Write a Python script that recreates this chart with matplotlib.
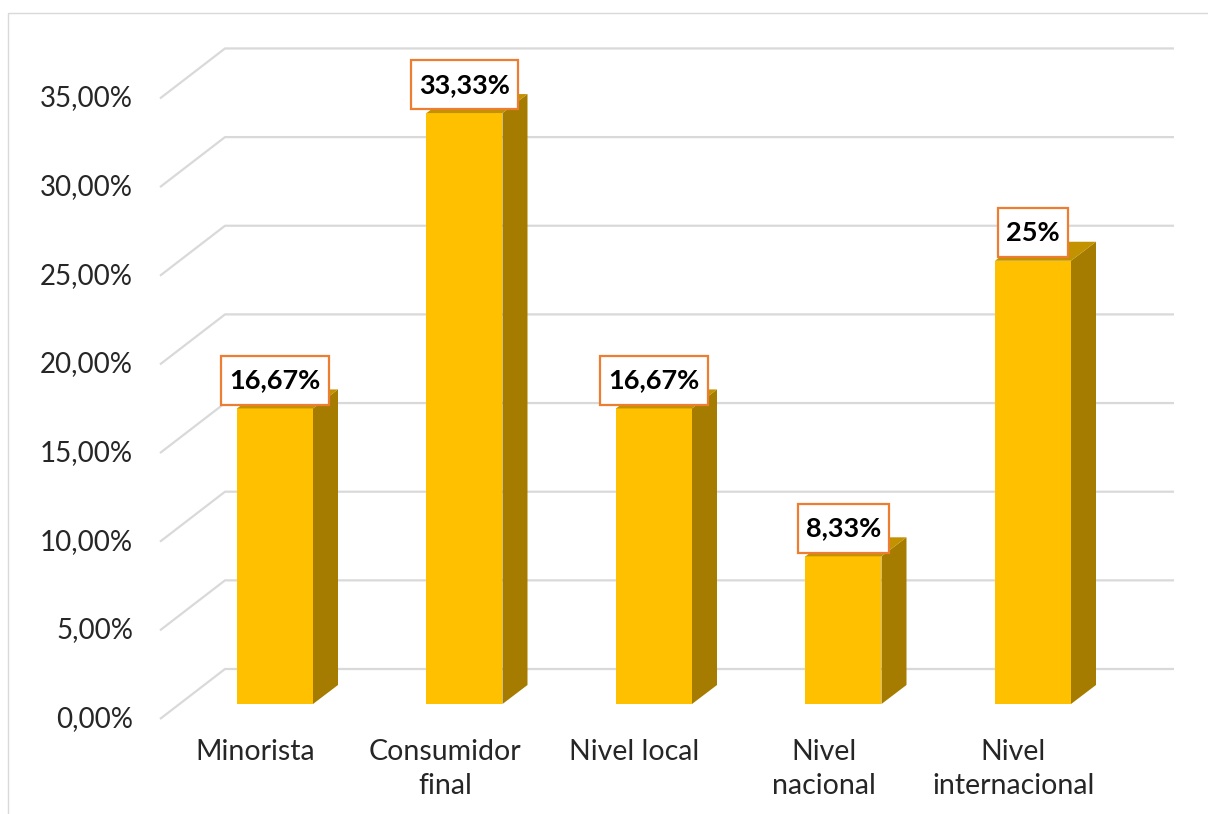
import matplotlib
matplotlib.use("Agg")
import matplotlib.pyplot as plt
from matplotlib.patches import Polygon, Rectangle

# Data
categories = ["Minorista", "Consumidor\nfinal", "Nivel local", "Nivel\nnacional", "Nivel\ninternacional"]
values = [16.67, 33.33, 16.67, 8.33, 25.0]
value_labels = ["16,67%", "33,33%", "16,67%", "8,33%", "25%"]
y_ticks = [0, 5, 10, 15, 20, 25, 30, 35]

# Style
FRONT = "#ffc000"
SIDE = "#a67c00"
TOP = "#c29200"
GRID = "#d9d9d9"
BOX_EDGE = "#ed7d31"
TEXT = "#262626"
plt.rcParams["font.family"] = ["Lato", "DejaVu Sans"]

W, H = 1208, 814
fig = plt.figure(figsize=(W / 100, H / 100), dpi=100)
ax = fig.add_axes([0, 0, 1, 1])
ax.axis("off")

# Scale: 189.5 px per category, 17.73 px per percentage point
px_cat, px_pct = 189.5, 17.73
x0_px, y0_px = 275.0, 704.0
ax.set_xlim(-x0_px / px_cat, (W - x0_px) / px_cat)
ax.set_ylim((y0_px - H) / px_pct, y0_px / px_pct)

bar_w = 76 / px_cat
dx, dy = 25 / px_cat, 19 / px_pct            # bar depth
back_dy = 35 / px_pct                          # back wall offset above bar plane
front_dy = -15 / px_pct                        # front plane offset below bar plane
wall_left = (225 - x0_px) / px_cat
front_left = (160 - x0_px) / px_cat
wall_right = (1174 - x0_px) / px_cat

# Gridlines: left wall diagonal + back wall horizontal
for v in y_ticks:
    ax.plot([front_left, wall_left, wall_right],
            [v + front_dy, v + back_dy, v + back_dy],
            color=GRID, lw=1.6, zorder=1, solid_capstyle="butt")
    lab = f"{v:.2f}%".replace(".", ",")
    ax.text((133 - x0_px) / px_cat, v + front_dy, lab, ha="right", va="center",
            fontsize=20, color=TEXT, zorder=5)

# Bars (front, side and top faces)
xs = list(range(len(values)))
ax.bar(xs, values, width=bar_w, color=FRONT, zorder=3, linewidth=0)
for x, v in zip(xs, values):
    r, l = x + bar_w / 2, x - bar_w / 2
    ax.add_patch(Polygon([(r, 0), (r + dx, dy), (r + dx, v + dy), (r, v)],
                         closed=True, facecolor=SIDE, edgecolor="none", zorder=3))
    ax.add_patch(Polygon([(l, v), (r, v), (r + dx, v + dy), (l + dx, v + dy)],
                         closed=True, facecolor=TOP, edgecolor="none", zorder=3))

# Value labels in boxes
for x, v, s in zip(xs, values, value_labels):
    ax.annotate(s, xy=(x, v), xytext=(0, 20.3), textcoords="offset points",
                ha="center", va="center", fontsize=19.5, fontweight="bold", color="black",
                zorder=6,
                bbox=dict(boxstyle="square,pad=0.3", facecolor="white",
                          edgecolor=BOX_EDGE, linewidth=1.6, mutation_aspect=1.55))

# Category labels on the front plane
for x, c in zip(xs, categories):
    ax.text(x - 19.5 / px_cat, (y0_px - 739) / px_pct, c, ha="center", va="top",
            fontsize=20.5, color=TEXT, linespacing=1.37, zorder=5)

# Chart frame
fig.add_artist(Rectangle((8 / W, -0.2), 1.2, 1.2 - 12.5 / H, transform=fig.transFigure,
                         fill=False, edgecolor=GRID, linewidth=1.0))

fig.savefig("out.png", dpi=100)
